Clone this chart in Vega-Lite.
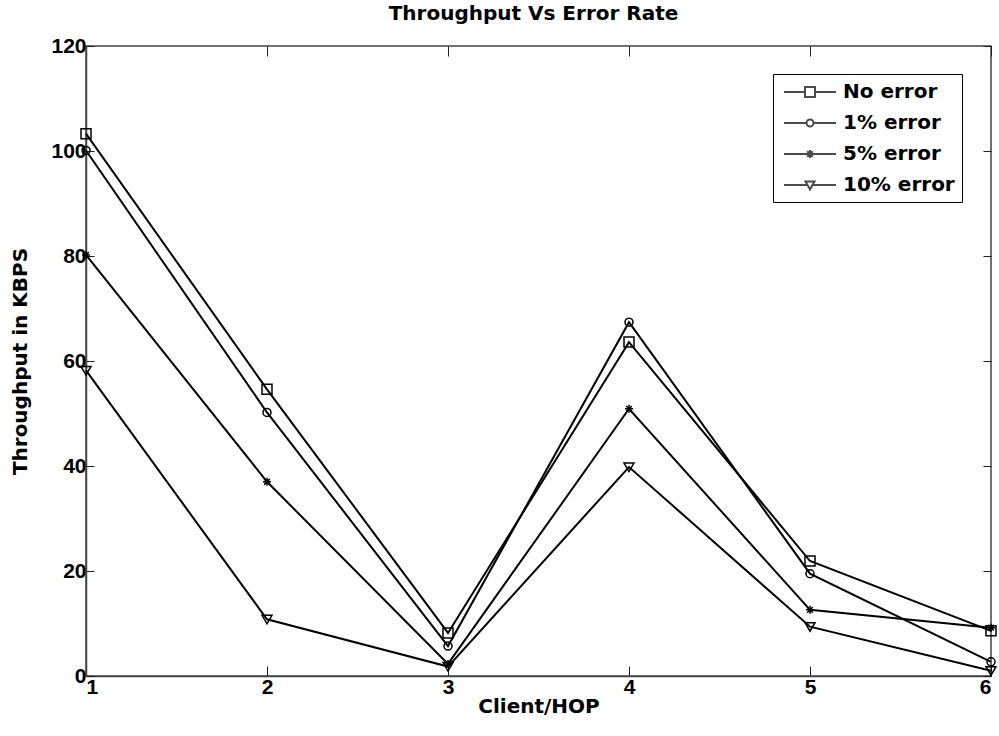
{
  "$schema": "https://vega.github.io/schema/vega-lite/v6.json",
  "autosize": "none",
  "width": 905,
  "height": 630,
  "padding": {"left": 86, "top": 46, "right": 8, "bottom": 60},
  "background": "white",
  "title": {"text": "Throughput Vs Error Rate", "font": "DejaVu Sans", "fontSize": 20, "fontWeight": "bold", "color": "black", "offset": 11, "anchor": "middle", "dx": -5},
  "config": {
    "view": {"stroke": "#444", "strokeWidth": 1.5},
    "axis": {"grid": false, "domainColor": "#444", "domainWidth": 1.5, "tickColor": "#222", "tickWidth": 1, "labelFont": "Liberation Sans", "labelFontSize": 21, "labelFontWeight": "bold", "labelColor": "black", "titleFont": "DejaVu Sans", "titleFontSize": 20, "titleFontWeight": "bold", "titleColor": "black"}
  },
  "data": {"values": [
    {"client": 1, "throughput": 103.3, "series": "No error"},
    {"client": 2, "throughput": 54.6, "series": "No error"},
    {"client": 3, "throughput": 8.2, "series": "No error"},
    {"client": 4, "throughput": 63.6, "series": "No error"},
    {"client": 5, "throughput": 21.9, "series": "No error"},
    {"client": 6, "throughput": 8.6, "series": "No error"},
    {"client": 1, "throughput": 100.1, "series": "1% error"},
    {"client": 2, "throughput": 50.2, "series": "1% error"},
    {"client": 3, "throughput": 5.7, "series": "1% error"},
    {"client": 4, "throughput": 67.4, "series": "1% error"},
    {"client": 5, "throughput": 19.5, "series": "1% error"},
    {"client": 6, "throughput": 2.7, "series": "1% error"},
    {"client": 1, "throughput": 80.2, "series": "5% error"},
    {"client": 2, "throughput": 37.0, "series": "5% error"},
    {"client": 3, "throughput": 2.3, "series": "5% error"},
    {"client": 4, "throughput": 50.9, "series": "5% error"},
    {"client": 5, "throughput": 12.6, "series": "5% error"},
    {"client": 6, "throughput": 9.2, "series": "5% error"},
    {"client": 1, "throughput": 58.2, "series": "10% error"},
    {"client": 2, "throughput": 10.8, "series": "10% error"},
    {"client": 3, "throughput": 1.8, "series": "10% error"},
    {"client": 4, "throughput": 39.8, "series": "10% error"},
    {"client": 5, "throughput": 9.4, "series": "10% error"},
    {"client": 6, "throughput": 1.0, "series": "10% error"}
  ]},
  "resolve": {"axis": {"x": "independent", "y": "independent"}, "scale": {"shape": "independent"}},
  "layer": [
    {
      "mark": {"type": "line", "color": "black", "strokeWidth": 2},
      "encoding": {
        "x": {"field": "client", "type": "quantitative", "scale": {"domain": [1, 6], "nice": false, "zero": false},
              "axis": {"title": "Client/HOP", "values": [1, 2, 3, 4, 5, 6], "format": "d", "tickSize": -10, "labelPadding": 10, "titlePadding": -1}},
        "y": {"field": "throughput", "type": "quantitative", "scale": {"domain": [0, 120], "nice": false},
              "axis": {"title": "Throughput in KBPS", "values": [0, 20, 40, 60, 80, 100, 120], "tickSize": -8, "labelPadding": 8, "titlePadding": 20}},
        "detail": {"field": "series"}
      }
    },
    {
      "mark": {"type": "point", "filled": false, "stroke": "black", "strokeWidth": 1.5, "opacity": 1, "size": 100},
      "encoding": {
        "x": {"field": "client", "type": "quantitative", "axis": null},
        "y": {"field": "throughput", "type": "quantitative", "axis": null},
        "shape": {"field": "series", "type": "nominal", "legend": null,
          "scale": {"domain": ["No error", "1% error", "5% error", "10% error"],
                    "range": ["M-1,-1H1V1H-1Z", "M-0.8,0A0.8,0.8,0,1,0,0.8,0A0.8,0.8,0,1,0,-0.8,0", "M0,-0.8V0.8M-0.8,0H0.8M-0.57,-0.57L0.57,0.57M-0.57,0.57L0.57,-0.57", "M-1,-0.8H1L0,0.9Z"]}
        }
      }
    },
    {
      "transform": [{"filter": "false"}],
      "mark": {"type": "point", "filled": false, "stroke": "black", "strokeWidth": 2},
      "encoding": {
        "shape": {"field": "series", "type": "nominal",
          "scale": {"domain": ["No error", "1% error", "5% error", "10% error"],
                    "range": ["M-0.7,0H1.4M2.4,0H4.5M1.4,-0.5H2.4V0.5H1.4Z",
                              "M-0.7,0H1.55M2.25,0H4.5M1.55,0A0.35,0.35,0,1,0,2.25,0A0.35,0.35,0,1,0,1.55,0",
                              "M-0.7,0H4.5M1.9,-0.4V0.4M1.62,-0.28L2.18,0.28M1.62,0.28L2.18,-0.28",
                              "M-0.7,0H1.65M2.15,0H4.5M1.45,-0.35H2.35L1.9,0.45Z"]},
          "legend": {
            "title": null, "orient": "none", "legendX": 687, "legendY": 28,
            "strokeColor": "black", "fillColor": "white", "padding": 7,
            "symbolSize": 400, "symbolStrokeColor": "black", "symbolFillColor": "transparent", "symbolStrokeWidth": 2,
            "labelFont": "DejaVu Sans", "labelFontSize": 20, "labelFontWeight": "bold", "labelColor": "black",
            "labelOffset": 41, "rowPadding": 10
          }
        }
      }
    },
    {
      "mark": {"type": "point", "opacity": 0},
      "encoding": {
        "x": {"field": "client", "type": "quantitative",
              "axis": {"orient": "top", "values": [1, 2, 3, 4, 5, 6], "labels": false, "domain": false, "title": null, "tickSize": -10}},
        "y": {"field": "throughput", "type": "quantitative",
              "axis": {"orient": "right", "values": [0, 20, 40, 60, 80, 100, 120], "labels": false, "domain": false, "title": null, "tickSize": -8}}
      }
    }
  ]
}
